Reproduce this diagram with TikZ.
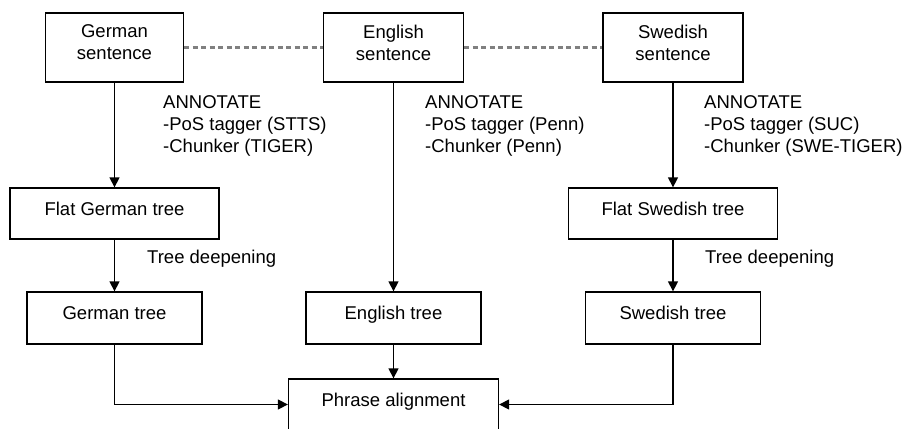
\documentclass[tikz,border=0pt]{standalone}
\usepackage{fontspec}
\setmainfont{Liberation Sans}
\usepackage{tikz}
\usetikzlibrary{positioning}
\usetikzlibrary{arrows.meta}

\tikzset{
  box/.style={draw,line width=1.3pt,inner sep=0pt,align=center,text depth=10pt},
  arr/.style={line width=1.3pt,-{Triangle[length=10pt,width=10pt]}},
  link/.style={draw=gray,line width=2.2pt,dash pattern=on 5pt off 3.5pt},
  note/.style={inner sep=0pt,align=left,anchor=north west}
}

\begin{document}
\begin{tikzpicture}[x=1pt,y=-1pt,font=\fontsize{18.5}{22}\selectfont]
	  \useasboundingbox (0,0) rectangle (912,428);
	  % sentences
	  \node (GS) [box,minimum width=138pt,minimum height=69pt] at (114.5,47.5) {German\\sentence};
	  \node (ES) [box,minimum width=140pt,minimum height=69pt] at (393.5,47.5) {English\\sentence};
	  \node (SS) [box,minimum width=140pt,minimum height=69pt] at (673,47.5) {Swedish\\sentence};
	  \draw [link] (GS) -- (ES);
	  \draw [link] (ES) -- (SS);
	  % annotation
	  \node (GA) [note] at (163,95) {ANNOTATE\\-PoS tagger (STTS)\\-Chunker (TIGER)};
	  \node (EA) [note] at (425,95) {ANNOTATE\\-PoS tagger (Penn)\\-Chunker (Penn)};
	  \node (SA) [note] at (704,95) {ANNOTATE\\-PoS tagger (SUC)\\-Chunker (SWE-TIGER)};
	  \node (GF) [box,minimum width=209pt,minimum height=51pt] at (114.5,213.5) {Flat German tree};
	  \node (SF) [box,minimum width=209pt,minimum height=51pt] at (673,213.5) {Flat Swedish tree};
	  % deepening
	  \node (GD) [inner sep=0pt,anchor=base west] at (147,263) {Tree deepening};
	  \node (SD) [inner sep=0pt,anchor=base west] at (705,263) {Tree deepening};
	  \node (GT) [box,minimum width=175pt,minimum height=52pt] at (114.5,318) {German tree};
	  \node (ET) [box,minimum width=175pt,minimum height=52pt] at (393.5,318) {English tree};
	  \node (ST) [box,minimum width=175pt,minimum height=52pt] at (673,318) {Swedish tree};
	  \node (PA) [box,minimum width=210pt,minimum height=51pt] at (393.5,404.5) {Phrase alignment};
	  % arrows
	  \draw [arr] (GS) -- (GF);
	  \draw [arr] (SS) -- (SF);
	  \draw [arr] (ES) -- (ET);
	  \draw [arr] (GF) -- (GT);
	  \draw [arr] (SF) -- (ST);
	  \draw [arr] (ET) -- (PA);
	  \draw [arr] (GT) |- (PA);
	  \draw [arr] (ST) |- (PA);
	\end{tikzpicture}
\end{document}
